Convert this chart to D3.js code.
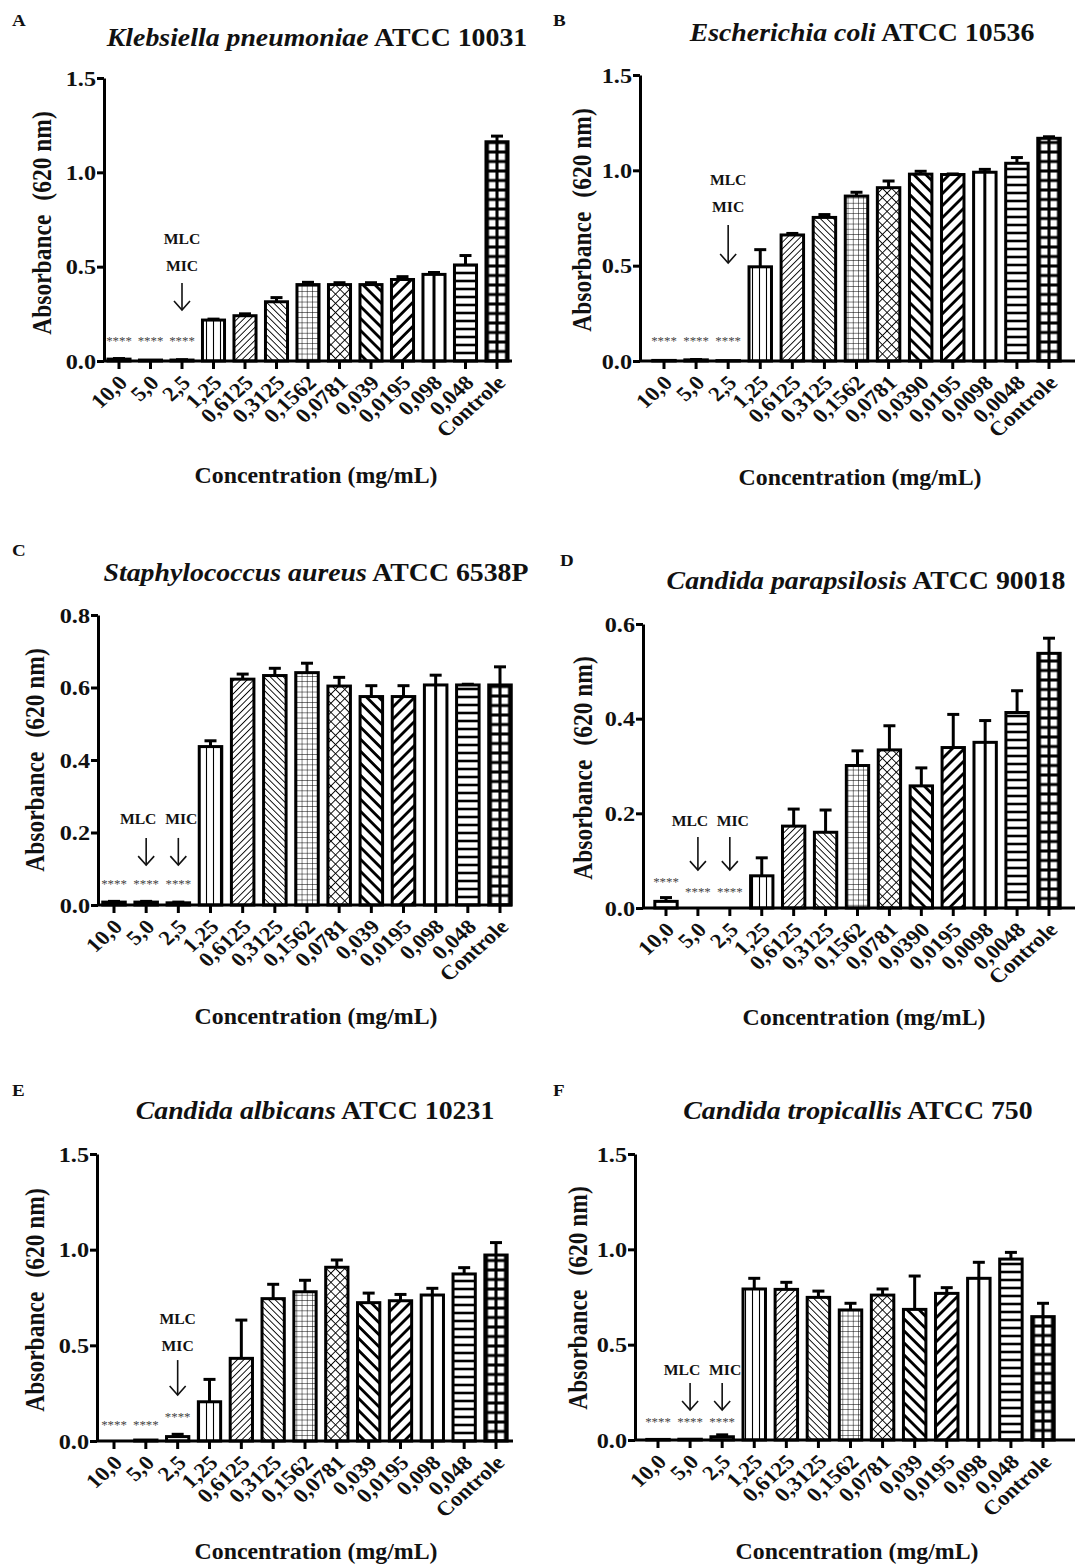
<!DOCTYPE html>
<html>
<head>
<meta charset="utf-8">
<script src="https://cdnjs.cloudflare.com/ajax/libs/d3/7.8.5/d3.min.js"></script>
<style>
  body { margin: 0; background: #fff; }
  svg text { font-family: "Liberation Serif", "Times New Roman", serif; fill: #111; }
</style>
</head>
<body>
<div id="chart-area"></div>
<script>
// ---- data ----
var catsLong  = ["10,0","5,0","2,5","1,25","0,6125","0,3125","0,1562","0,0781","0,039","0,0195","0,098","0,048","Controle"];
var catsShort = ["10,0","5,0","2,5","1,25","0,6125","0,3125","0,1562","0,0781","0,0390","0,0195","0,0098","0,0048","Controle"];

var valsA = [0.010, 0.005, 0.005, 0.217, 0.240, 0.314, 0.405, 0.405, 0.405, 0.432, 0.459, 0.509, 1.162];
var errA  = [0.003, 0.001, 0.002, 0.005, 0.010, 0.022, 0.012, 0.010, 0.010, 0.015, 0.010, 0.050, 0.030];

var valsB = [0.003, 0.006, 0.002, 0.494, 0.661, 0.753, 0.865, 0.909, 0.980, 0.978, 0.990, 1.037, 1.168];
var errB  = [0.001, 0.002, 0.000, 0.090, 0.008, 0.015, 0.020, 0.035, 0.015, 0.003, 0.015, 0.030, 0.008];

var valsC = [0.008, 0.008, 0.006, 0.437, 0.623, 0.633, 0.641, 0.604, 0.575, 0.575, 0.607, 0.607, 0.607];
var errC  = [0.002, 0.002, 0.002, 0.016, 0.014, 0.020, 0.026, 0.024, 0.030, 0.030, 0.027, 0.002, 0.050];

var valsD = [0.014, 0.000, 0.000, 0.068, 0.173, 0.160, 0.301, 0.334, 0.258, 0.339, 0.350, 0.413, 0.538];
var errD  = [0.008, 0.000, 0.000, 0.038, 0.036, 0.047, 0.031, 0.051, 0.038, 0.070, 0.046, 0.046, 0.032];

var valsE = [0.000, 0.005, 0.023, 0.205, 0.432, 0.744, 0.780, 0.908, 0.723, 0.733, 0.763, 0.873, 0.972];
var errE  = [0.000, 0.001, 0.012, 0.117, 0.200, 0.075, 0.060, 0.038, 0.050, 0.033, 0.035, 0.033, 0.065];

var valsF = [0.003, 0.004, 0.017, 0.792, 0.790, 0.748, 0.682, 0.760, 0.685, 0.769, 0.848, 0.949, 0.647];
var errF  = [0.001, 0.001, 0.010, 0.056, 0.037, 0.033, 0.035, 0.032, 0.175, 0.030, 0.084, 0.035, 0.070];

var ticks15 = [0, 0.5, 1.0, 1.5];
var ticks08 = [0, 0.2, 0.4, 0.6, 0.8];
var ticks06 = [0, 0.2, 0.4, 0.6];

var speciesNames = ["Klebsiella pneumoniae", "Escherichia coli", "Staphylococcus aureus",
                    "Candida parapsilosis", "Candida albicans", "Candida tropicallis"];
var strainNames  = ["ATCC 10031", "ATCC 10536", "ATCC 6538P", "ATCC 90018", "ATCC 10231", "ATCC 750"];
var panelLetters = ["A", "B", "C", "D", "E", "F"];

// "****" marks: [category index, height in absorbance units]
var starsA = [[0, 0.105], [1, 0.105], [2, 0.105]];
var starsB = [[0, 0.105], [1, 0.105], [2, 0.105]];
var starsC = [[0, 0.059], [1, 0.059], [2, 0.059]];
var starsD = [[0, 0.056], [1, 0.034], [2, 0.034]];
var starsE = [[0, 0.084], [1, 0.084], [2, 0.127]];
var starsF = [[0, 0.096], [1, 0.096], [2, 0.096]];

// MLC / MIC labels: [text, category index, height]
var notesA = [["MLC", 2, 0.647], ["MIC", 2, 0.505]];
var notesB = [["MLC", 2, 0.949], ["MIC", 2, 0.808]];
var notesC = [["MLC", 1, 0.237], ["MIC", 2, 0.237]];
var notesD = [["MLC", 1, 0.184], ["MIC", 2, 0.184]];
var notesE = [["MLC", 2, 0.638], ["MIC", 2, 0.498]];
var notesF = [["MLC", 1, 0.367], ["MIC", 2, 0.367]];

// arrows: [category index, top, bottom]
var arrowsA = [[2, 0.413, 0.270]];
var arrowsB = [[2, 0.713, 0.514]];
var arrowsC = [[1, 0.185, 0.110], [2, 0.185, 0.110]];
var arrowsD = [[1, 0.150, 0.080], [2, 0.150, 0.080]];
var arrowsE = [[2, 0.423, 0.240]];
var arrowsF = [[1, 0.299, 0.157], [2, 0.299, 0.157]];

// ---- layout ----
var SX = 1.12;   // the original figure is a bit stretched horizontally

var panels = [
  {vals: valsA, errs: errA, cats: catsLong,  ticks: ticks15, stars: starsA, notes: notesA, arrows: arrowsA,
   ax: 104, ar: 512, c0: 119, c12: 497, yb: 361, yt: 78,
   letter: [12, 26], title: [317, 46], ytitle: [42, 223], xtitle: [316, 483]},
  {vals: valsB, errs: errB, cats: catsShort, ticks: ticks15, stars: starsB, notes: notesB, arrows: arrowsB,
   ax: 640, ar: 1075, c0: 664, c12: 1049, yb: 361, yt: 75,
   letter: [553, 26], title: [862, 41], ytitle: [582, 220], xtitle: [860, 485]},
  {vals: valsC, errs: errC, cats: catsLong,  ticks: ticks08, stars: starsC, notes: notesC, arrows: arrowsC,
   ax: 98, ar: 512, c0: 114, c12: 500, yb: 905, yt: 615,
   letter: [12, 556], title: [316, 581], ytitle: [35, 760], xtitle: [316, 1024]},
  {vals: valsD, errs: errD, cats: catsShort, ticks: ticks06, stars: starsD, notes: notesD, arrows: arrowsD,
   ax: 643, ar: 1075, c0: 666, c12: 1049, yb: 908, yt: 624,
   letter: [560, 566], title: [866, 589], ytitle: [583, 768], xtitle: [864, 1025]},
  {vals: valsE, errs: errE, cats: catsLong,  ticks: ticks15, stars: starsE, notes: notesE, arrows: arrowsE,
   ax: 97, ar: 513, c0: 114, c12: 496, yb: 1441, yt: 1154,
   letter: [12, 1096], title: [315, 1119], ytitle: [35, 1300], xtitle: [316, 1559]},
  {vals: valsF, errs: errF, cats: catsLong,  ticks: ticks15, stars: starsF, notes: notesF, arrows: arrowsF,
   ax: 635, ar: 1075, c0: 658, c12: 1043, yb: 1440, yt: 1154,
   letter: [553, 1096], title: [858, 1119], ytitle: [578, 1298], xtitle: [857, 1559]}
];

var svg = d3.select("#chart-area").append("svg")
    .attr("width", 1075)
    .attr("height", 1566);

svg.append("rect").attr("width", 1075).attr("height", 1566).attr("fill", "#fff");

// ---- hatch patterns, one per concentration ----
var defs = svg.append("defs");

function linePattern(id, size, rot, sw, lines, ox, oy) {
  var p = defs.append("pattern")
      .attr("id", id)
      .attr("patternUnits", "userSpaceOnUse")
      .attr("x", ox || 0).attr("y", oy || 0)
      .attr("width", size).attr("height", size);
  if (rot) p.attr("patternTransform", "rotate(" + rot + ")");
  p.append("rect").attr("width", size).attr("height", size).attr("fill", "#fff");
  lines.forEach(function(l) {
    p.append("line")
      .attr("x1", l[0]).attr("y1", l[1]).attr("x2", l[2]).attr("y2", l[3])
      .attr("stroke", "#000").attr("stroke-width", sw);
  });
}

linePattern("p-vthin", 7, 0, 1.1, [[3.5, 0, 3.5, 7]]);
linePattern("p-fwd", 4.6, 45, 0.9, [[2.3, 0, 2.3, 4.6]]);
linePattern("p-back", 4.6, -45, 0.9, [[2.3, 0, 2.3, 4.6]]);
linePattern("p-grid", 5.2, 0, 1.0, [[0, 0, 5.2, 0], [0, 0, 0, 5.2]]);
linePattern("p-cross", 6.5, 45, 0.9, [[3.25, 0, 3.25, 6.5], [0, 3.25, 6.5, 3.25]]);
linePattern("p-back-thick", 8.5, -45, 2.8, [[4.25, 0, 4.25, 8.5]]);
linePattern("p-fwd-thick", 8.5, 45, 2.8, [[4.25, 0, 4.25, 8.5]]);

function fillFor(i, k) {
  var f = ["#fff", "#fff", "#fff", "p-vthin", "p-fwd", "p-back", "p-grid",
           "p-cross", "p-back-thick", "p-fwd-thick", "#fff", "p-hthick-" + k, "p-gthick-" + k][i];
  return f.charAt(0) === "#" ? f : "url(#" + f + ")";
}

// ---- helpers ----
function addText(parent, x, y, str, size, opts) {
  opts = opts || {};
  var sx = opts.sx || SX;
  var tf = "translate(" + x + "," + y + ") scale(" + sx + ",1)" + (opts.rot ? " rotate(" + opts.rot + ")" : "");
  return parent.append("text")
    .attr("transform", tf)
    .attr("text-anchor", opts.anchor || "middle")
    .attr("dy", opts.dy || 0)
    .style("font-size", size + "px")
    .style("font-weight", opts.weight || "bold")
    .style("font-style", opts.style || "normal")
    .style("fill", opts.fill || "#111")
    .text(str);
}

function drawPanel(p, k) {
  var g = svg.append("g");

  var step = (p.c12 - p.c0) / 12;
  var x = d3.scaleBand()
      .domain(p.cats)
      .range([p.c0 - step / 2, p.c12 + step / 2])
      .paddingInner(0.3)
      .paddingOuter(0.15);

  var y = d3.scaleLinear()
      .domain([0, d3.max(p.ticks)])
      .range([p.yb, p.yt]);

  // thick horizontal lines and thick grid, anchored to the baseline / bar centre
  var ctrX = x(p.cats[12]) + x.bandwidth() / 2;
  linePattern("p-hthick-" + k, 8, 0, 2.6, [[0, 0, 8, 0], [0, 8, 8, 8]], 0, p.yb);
  linePattern("p-gthick-" + k, 9.5, 0, 3, [[0, 0, 9.5, 0], [0, 9.5, 9.5, 9.5], [0, 0, 0, 9.5], [9.5, 0, 9.5, 9.5]],
              ctrX, p.yb);

  var rows = p.cats.map(function(c, i) { return {cat: c, v: p.vals[i], e: p.errs[i], i: i}; });

  // error bars (upper only)
  var eb = g.append("g").selectAll("g")
    .data(rows.filter(function(d) { return d.e > 0.0015; }))
    .enter().append("g")
    .attr("stroke", "#000").attr("stroke-width", 3);
  eb.append("line")
    .attr("x1", function(d) { return x(d.cat) + x.bandwidth() / 2; })
    .attr("x2", function(d) { return x(d.cat) + x.bandwidth() / 2; })
    .attr("y1", function(d) { return y(d.v); })
    .attr("y2", function(d) { return y(d.v + d.e); });
  eb.append("line")
    .attr("x1", function(d) { return x(d.cat) + x.bandwidth() / 2 - 6; })
    .attr("x2", function(d) { return x(d.cat) + x.bandwidth() / 2 + 6; })
    .attr("y1", function(d) { return y(d.v + d.e); })
    .attr("y2", function(d) { return y(d.v + d.e); });

  // bars
  g.append("g").selectAll("rect")
    .data(rows)
    .enter().append("rect")
    .attr("x", function(d) { return x(d.cat); })
    .attr("y", function(d) { return y(d.v); })
    .attr("width", x.bandwidth())
    .attr("height", function(d) { return y(0) - y(d.v); })
    .attr("fill", function(d) { return fillFor(d.i, k); })
    .attr("stroke", "#000")
    .attr("stroke-width", 3);

  // the 0,098 / 0,0098 bar has a single thick centre line
  g.append("g").selectAll("line")
    .data(rows.filter(function(d) { return d.i === 10; }))
    .enter().append("line")
    .attr("x1", function(d) { return x(d.cat) + x.bandwidth() / 2; })
    .attr("x2", function(d) { return x(d.cat) + x.bandwidth() / 2; })
    .attr("y1", function(d) { return y(d.v); })
    .attr("y2", function(d) { return y(0); })
    .attr("stroke", "#000").attr("stroke-width", 3);

  // y axis
  var yAxis = d3.axisLeft(y)
      .tickValues(p.ticks)
      .tickFormat(d3.format(".1f"))
      .tickSize(7)
      .tickSizeOuter(0);
  var yg = g.append("g")
      .attr("transform", "translate(" + p.ax + ",0)")
      .call(yAxis);
  yg.select(".domain").attr("stroke-width", 3).attr("stroke", "#000");
  yg.selectAll(".tick line").attr("stroke-width", 3).attr("stroke", "#000");
  yg.selectAll(".tick text")
    .attr("x", -8 / 1.1)
    .attr("transform", "scale(1.1,1)")
    .style("font-size", "22px")
    .style("font-weight", "bold")
    .style("font-family", "Liberation Serif, serif")
    .attr("fill", "#111");

  // x axis
  var xAxis = d3.axisBottom(x)
      .tickSize(8)
      .tickSizeOuter(0);
  var xg = g.append("g")
      .attr("transform", "translate(0," + p.yb + ")")
      .call(xAxis);
  xg.select(".domain").remove();
  xg.selectAll(".tick line").attr("stroke-width", 3).attr("stroke", "#000");
  xg.selectAll(".tick text")
    .attr("x", 0).attr("y", 0).attr("dy", "0.35em")
    .attr("text-anchor", "end")
    .attr("transform", "translate(4,18) scale(" + SX + ",1) rotate(-45)")
    .style("font-size", "20.5px")
    .style("font-weight", "bold")
    .style("font-family", "Liberation Serif, serif")
    .attr("fill", "#111");
  g.append("line")
    .attr("x1", p.ax).attr("x2", p.ar)
    .attr("y1", p.yb).attr("y2", p.yb)
    .attr("stroke", "#000").attr("stroke-width", 3);

  // significance stars
  p.stars.forEach(function(s) {
    addText(g, x(p.cats[s[0]]) + x.bandwidth() / 2, y(s[1]), "****", 11.5,
            {weight: "normal", fill: "#444", dy: "0.35em"});
  });

  // MLC / MIC labels and arrows; side-by-side labels are nudged apart
  p.notes.forEach(function(n) {
    var side = p.notes.filter(function(m) { return m[2] === n[2]; }).length > 1;
    var nudge = side ? (n[0] === "MLC" ? -8 : 3) : 0;
    addText(g, x(p.cats[n[1]]) + x.bandwidth() / 2 + nudge, y(n[2]), n[0], 14.5, {dy: "0.35em", sx: 1.08});
  });
  p.arrows.forEach(function(a) {
    var cx = x(p.cats[a[0]]) + x.bandwidth() / 2;
    var y0 = y(a[1]), y1 = y(a[2]);
    g.append("line")
      .attr("x1", cx).attr("x2", cx).attr("y1", y0).attr("y2", y1)
      .attr("stroke", "#111").attr("stroke-width", 1.6);
    g.append("polyline")
      .attr("points", (cx - 8) + "," + (y1 - 9) + " " + cx + "," + y1 + " " + (cx + 8) + "," + (y1 - 9))
      .attr("fill", "none").attr("stroke", "#111").attr("stroke-width", 1.6);
  });

  // titles
  addText(g, p.letter[0], p.letter[1], panelLetters[k], 17, {anchor: "start"});

  var t = addText(g, p.title[0], p.title[1], "", 26, {weight: "bold", sx: 1.07});
  t.append("tspan").style("font-style", "italic").text(speciesNames[k]);
  t.append("tspan").text(" " + strainNames[k]);

  var yt = addText(g, p.ytitle[0], p.ytitle[1], "", 23.5, {rot: -90, dy: "0.35em", sx: 1.12});
  yt.append("tspan").text("Absorbance");
  yt.append("tspan").attr("dx", 14).text("(620 nm)");

  addText(g, p.xtitle[0], p.xtitle[1], "Concentration (mg/mL)", 22.5, {sx: 1.06});
}

panels.forEach(drawPanel);
</script>
</body>
</html>
